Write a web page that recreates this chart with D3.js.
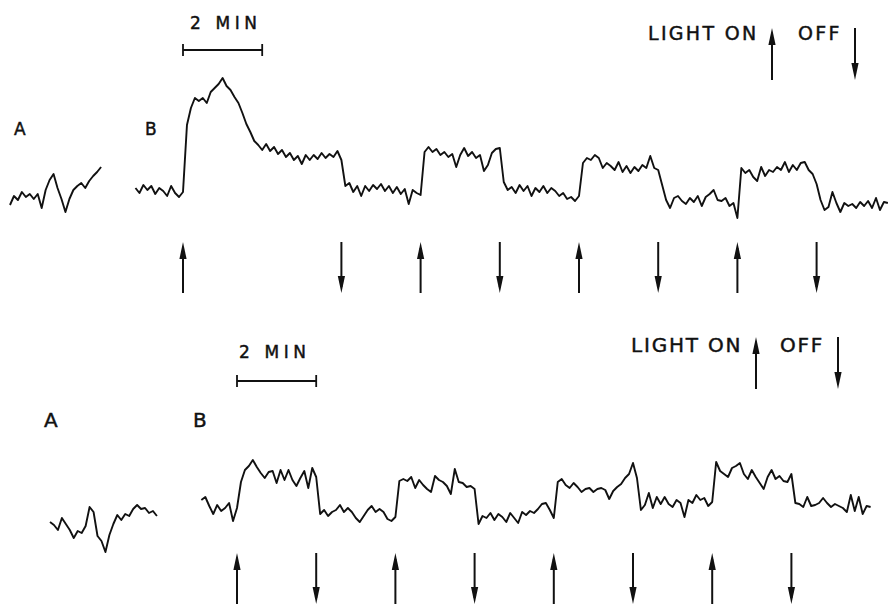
<!DOCTYPE html>
<html>
<head>
<meta charset="utf-8">
<script src="https://cdn.jsdelivr.net/npm/d3@7"></script>
<style>
  html, body { margin: 0; padding: 0; background: #fff; }
  svg { display: block; }
  text { font-family: "DejaVu Sans", sans-serif; fill: #111; stroke: #111; stroke-width: 0.45px; }
</style>
</head>
<body>
<div id="chart"></div>
<script>
// traces, one value every 0.1 min (arbitrary units, up = positive)
const stepMin = 0.1;

// upper record: A starts at its own t=0, B starts 1.2 min before the first light on
const topStartB = -1.2;
const topTraceA = [
    -5, 4, 0, 8, 3, 6, 1, 6, -8, 10, 20, 26, 12, 1, -12, 1, 10, 14, 17, 12, 19, 24, 28, 33
];
const topTraceB = [
    12, 7, 15, 10, 14, 6, 12, 9, 4, 14, 7, 3,
    8, 75, 92, 102, 99, 102, 97, 108, 112, 116, 122, 114, 110, 103, 97, 87, 76, 68, 59, 55,
    50, 56, 49, 53, 46, 50, 43, 47, 40, 44, 36, 45, 40, 45, 41, 47, 42, 46, 43, 49,
    40, 14, 17, 8, 14, 4, 14, 9, 15, 11, 16, 9, 14, 7, 13, 6, 11, -4, 10, 7,
    5, 48, 53, 48, 51, 45, 48, 43, 46, 33, 45, 52, 44, 48, 42, 45, 29, 35, 47, 51,
    52, 18, 10, 13, 7, 15, 9, 14, 4, 12, 8, 14, 7, 12, 9, 4, 7, 1, 3, -1,
    4, 37, 42, 40, 45, 42, 32, 37, 34, 30, 38, 28, 34, 27, 33, 29, 35, 32, 44, 32,
    30, 15, 0, -8, 2, 4, -1, -4, 2, -2, 4, -6, 3, 6, 10, 0, -1, 2, -6, -3,
    -18, 32, 27, 30, 23, 19, 33, 24, 30, 28, 33, 30, 38, 28, 35, 30, 37, 38, 30, 26,
    16, 0, -10, -7, 8, -3, -12, -3, -6, -4, -8, -2, -6, -1, -8, 2, -10, -2, -3
];
const topLightOn = [0, 6, 10, 14];
const topLightOff = [4, 8, 12, 16];

// lower record
const bottomStartB = -0.9;
const bottomTraceA = [
    -2, -5, -10, 2, -4, -10, -18, -11, -13, -6, 13, 8, -16, -21, -32, -15, -4, 5, 0, 6,
    4, 11, 15, 11, 12, 7, 9, 4
];
const bottomTraceB = [
    20, 23, 14, 6, 15, 9, 12, 17, -1,
    12, 38, 50, 54, 60, 53, 47, 42, 48, 49, 37, 50, 40, 50, 40, 34, 42, 49, 32, 52,
    43, 6, 10, 4, 8, 10, 15, 8, 12, 8, 2, -2, 4, 10, 14, 8, 11, 8, 1, -1,
    3, 39, 41, 39, 43, 32, 40, 35, 31, 28, 44, 40, 38, 34, 26, 51, 38, 37, 33, 34,
    31, -4, 4, 2, 7, 0, 6, 3, -2, 7, 2, -3, 8, 5, 9, 7, 11, 16, 17, 10,
    2, 38, 41, 35, 32, 37, 33, 28, 31, 32, 28, 31, 32, 30, 21, 29, 33, 36, 42, 46,
    57, 42, 10, 15, 27, 12, 23, 16, 23, 16, 13, 20, 17, 3, 20, 17, 25, 20, 22, 14,
    18, 58, 49, 46, 43, 52, 54, 57, 46, 41, 50, 43, 37, 31, 43, 50, 41, 44, 39, 38,
    46, 17, 16, 13, 23, 14, 15, 17, 22, 17, 13, 16, 14, 12, 8, 25, 9, 23, 6, 14, 13
];
const bottomLightOn = [0, 4, 8, 12];
const bottomLightOff = [2, 6, 10, 14];

// texts
const traceLabels = ["A", "B"];
const scaleBarLabel = "2 MIN";
const scaleBarMinutes = 2;
const legendOn = "LIGHT ON";
const legendOff = "OFF";


const width = 892, height = 605;
const pxPerMin = 39.6;

const svg = d3.select("#chart")
    .append("svg")
    .attr("width", width)
    .attr("height", height)
    .attr("viewBox", [0, 0, width, height])
;

// layout of the two records (pixels)
const panels = [
    {
        traceA: topTraceA, traceB: topTraceB, startB: topStartB,
        on: topLightOn, off: topLightOff,
        x0A: 10, x0B: 183, y0: 200,
        labelY: 135, labelX: [14, 145], labelSize: 17,
        barY: 50, barLabelX: 190, barLabelY: 29, barSize: 17, barSpacing: 4.6,
        arrowTop: 242, arrowBottom: 293,
        legendX: 648, legendY: 40, legendSize: 19, legendSpacing: 2.3,
        legendOnArrowX: 772, legendOffX: 798, legendOffArrowX: 855,
        legendArrowTop: 28, legendArrowBottom: 80
    },
    {
        traceA: bottomTraceA, traceB: bottomTraceB, startB: bottomStartB,
        on: bottomLightOn, off: bottomLightOff,
        x0A: 50, x0B: 237, y0: 520,
        labelY: 427, labelX: [44, 193], labelSize: 20,
        barY: 381, barLabelX: 239, barLabelY: 358, barSize: 17, barSpacing: 4.6,
        arrowTop: 553, arrowBottom: 604,
        legendX: 631, legendY: 352, legendSize: 20, legendSpacing: 1.8,
        legendOnArrowX: 756, legendOffX: 780, legendOffArrowX: 838,
        legendArrowTop: 337, legendArrowBottom: 389
    }
];

const line = d3.line()
    .x(d => d.x)
    .y(d => d.y)
    .curve(d3.curveLinear)
;

function drawArrow(g, x, yTop, yBottom, up) {
    const headLen = 17, headHalf = 3.6;
    g.append("line")
        .attr("x1", x).attr("x2", x)
        .attr("y1", up ? yTop + 6 : yTop)
        .attr("y2", up ? yBottom : yBottom - 6)
        .style("stroke", "#111")
        .style("stroke-width", 2)
    ;
    const tip = up ? yTop : yBottom;
    const base = up ? yTop + headLen : yBottom - headLen;
    g.append("path")
        .attr("d", `M${x},${tip}L${x - headHalf},${base}L${x + headHalf},${base}Z`)
        .style("fill", "#111")
    ;
}

panels.forEach(p => {
    const g = svg.append("g");

    const xA = d3.scaleLinear().domain([0, 1]).range([p.x0A, p.x0A + pxPerMin]);
    const xB = d3.scaleLinear().domain([0, 1]).range([p.x0B, p.x0B + pxPerMin]);
    const y = d3.scaleLinear().domain([0, 100]).range([p.y0, p.y0 - 100]);

    // traces
    [[p.traceA, xA, 0], [p.traceB, xB, p.startB]].forEach(([values, xs, t0]) => {
        const pts = values.map((v, i) => ({ x: xs(t0 + i * stepMin), y: y(v) }));
        g.append("path")
            .attr("d", line(pts))
            .style("fill", "none")
            .style("stroke", "#111")
            .style("stroke-width", 1.9)
            .style("stroke-linejoin", "round")
        ;
    });

    // A / B
    g.selectAll("text.label")
        .data(traceLabels)
        .enter()
        .append("text")
        .attr("class", "label")
        .attr("x", (d, i) => p.labelX[i])
        .attr("y", p.labelY)
        .style("font-size", p.labelSize + "px")
        .text(d => d)
    ;

    // 2 min scale bar, starting at the first light on
    const bx1 = xB(0), bx2 = xB(scaleBarMinutes);
    g.append("path")
        .attr("d", `M${bx1},${p.barY}H${bx2}M${bx1},${p.barY - 6}V${p.barY + 6}M${bx2},${p.barY - 6}V${p.barY + 6}`)
        .style("fill", "none")
        .style("stroke", "#111")
        .style("stroke-width", 1.8)
    ;
    g.append("text")
        .attr("x", p.barLabelX)
        .attr("y", p.barLabelY)
        .style("font-size", p.barSize + "px")
        .style("letter-spacing", p.barSpacing + "px")
        .text(scaleBarLabel)
    ;

    // light on / off markers under the record
    p.on.forEach(t => drawArrow(g, xB(t), p.arrowTop, p.arrowBottom, true));
    p.off.forEach(t => drawArrow(g, xB(t), p.arrowTop, p.arrowBottom, false));

    // legend
    g.append("text")
        .attr("x", p.legendX)
        .attr("y", p.legendY)
        .style("font-size", p.legendSize + "px")
        .style("letter-spacing", p.legendSpacing + "px")
        .text(legendOn)
    ;
    g.append("text")
        .attr("x", p.legendOffX)
        .attr("y", p.legendY)
        .style("font-size", p.legendSize + "px")
        .style("letter-spacing", p.legendSpacing + "px")
        .text(legendOff)
    ;
    drawArrow(g, p.legendOnArrowX, p.legendArrowTop, p.legendArrowBottom, true);
    drawArrow(g, p.legendOffArrowX, p.legendArrowTop, p.legendArrowBottom, false);
});
</script>
</body>
</html>
